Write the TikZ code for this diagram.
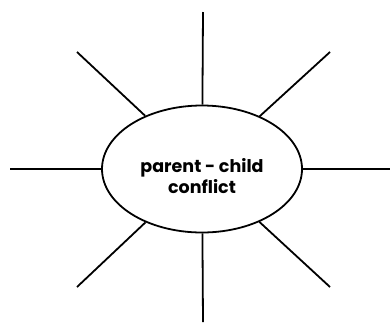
\documentclass[tikz,border=0pt]{standalone}
\usepackage{fontspec}
\setmainfont{Poppins}
\usetikzlibrary{shapes.geometric}
\begin{document}
\begin{tikzpicture}[x=1pt,y=-1pt,
  spoke/.style={line width=1.8pt,black},
  hub/.style={ellipse,draw=black,line width=1.8pt,minimum width=200pt,minimum height=127pt,inner sep=0pt},
  label/.style={align=center,inner sep=0pt,font=\bfseries\fontsize{17.5}{21}\selectfont}]
\useasboundingbox (0,0) rectangle (390,322);
\node[hub] (e) at (202,169) {};
\node[label] (t) at (202,176) {parent - child\\conflict};
\coordinate (n) at (203,12);
\coordinate (s) at (203,322);
\coordinate (w) at (10,169);
\coordinate (ea) at (390,169);
\coordinate (nw) at (77,52);
\coordinate (ne) at (330,52);
\coordinate (sw) at (77,287);
\coordinate (se) at (330,287);
\foreach \c in {n,s,w,ea,nw,ne,sw,se} \draw[spoke] (e) -- (\c);
\end{tikzpicture}
\end{document}
